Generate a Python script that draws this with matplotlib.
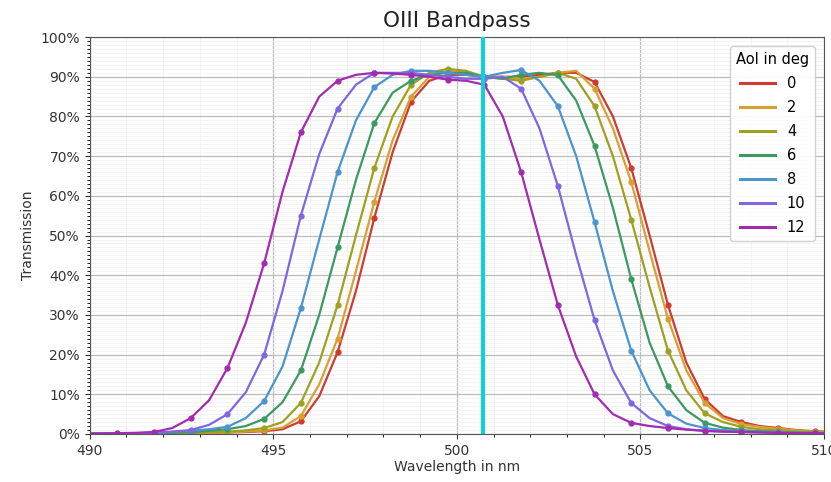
import numpy as np
import matplotlib
matplotlib.use("Agg")
import matplotlib.pyplot as plt
from matplotlib.ticker import MultipleLocator, PercentFormatter

# wavelength grid (nm), 0.5 nm steps; markers are drawn at every 1 nm (x.75)
wavelength = [489.75, 490.25, 490.75, 491.25, 491.75, 492.25, 492.75, 493.25, 493.75, 494.25,
              494.75, 495.25, 495.75, 496.25, 496.75, 497.25, 497.75, 498.25, 498.75, 499.25,
              499.75, 500.25, 500.75, 501.25, 501.75, 502.25, 502.75, 503.25, 503.75, 504.25,
              504.75, 505.25, 505.75, 506.25, 506.75, 507.25, 507.75, 508.25, 508.75, 509.25,
              509.75, 510.25]

aoi_labels = ["0", "2", "4", "6", "8", "10", "12"]

t_aoi0 = [0.1, 0.1, 0.1, 0.1, 0.2, 0.2, 0.3, 0.3, 0.4, 0.5,
          0.7, 1.2, 3.2, 9.5, 20.6, 36.0, 54.4, 71.0, 83.7, 89.0,
          90.5, 90.5, 90.0, 90.0, 90.0, 90.5, 91.0, 91.0, 88.7, 80.0,
          67.0, 50.0, 32.5, 18.0, 8.8, 4.5, 3.0, 2.0, 1.5, 1.0,
          0.7, 0.5]
t_aoi2 = [0.1, 0.1, 0.1, 0.1, 0.2, 0.2, 0.3, 0.3, 0.4, 0.6,
          0.9, 1.6, 4.5, 12.5, 24.0, 41.0, 58.5, 74.0, 85.0, 90.0,
          91.5, 91.0, 90.0, 90.0, 89.5, 90.0, 91.0, 91.5, 87.0, 77.0,
          63.5, 46.0, 29.0, 16.0, 7.8, 4.0, 2.5, 1.8, 1.3, 0.9,
          0.6, 0.4]
t_aoi4 = [0.1, 0.1, 0.1, 0.1, 0.2, 0.2, 0.3, 0.4, 0.6, 0.9,
          1.5, 3.0, 7.8, 18.0, 32.5, 50.0, 67.0, 80.0, 88.0, 91.0,
          92.0, 91.5, 90.0, 89.5, 89.0, 90.0, 91.0, 89.5, 82.6, 70.0,
          54.0, 37.0, 21.0, 11.0, 5.2, 3.0, 1.8, 1.2, 0.9, 0.6,
          0.4, 0.3]
t_aoi6 = [0.1, 0.1, 0.1, 0.2, 0.2, 0.3, 0.5, 0.8, 1.2, 2.0,
          3.8, 8.0, 16.0, 30.0, 47.0, 64.0, 78.3, 86.0, 89.0, 90.5,
          91.0, 91.0, 90.0, 89.5, 90.5, 91.0, 90.4, 84.0, 72.6, 57.0,
          39.0, 23.0, 12.0, 6.0, 2.8, 1.6, 1.0, 0.7, 0.5, 0.4,
          0.3, 0.2]
t_aoi8 = [0.1, 0.1, 0.1, 0.2, 0.3, 0.5, 0.8, 1.2, 1.8, 4.0,
          8.3, 17.0, 31.7, 49.0, 66.0, 79.0, 87.4, 90.5, 91.5, 91.5,
          91.0, 90.5, 90.0, 91.0, 91.7, 89.0, 82.6, 70.0, 53.4, 36.0,
          21.0, 11.0, 5.2, 2.6, 1.5, 1.0, 0.7, 0.5, 0.4, 0.3,
          0.2, 0.2]
t_aoi10 = [0.1, 0.1, 0.1, 0.2, 0.3, 0.6, 1.0, 2.3, 5.0, 10.5,
           20.0, 36.0, 55.0, 70.5, 82.0, 88.0, 91.0, 91.0, 91.0, 90.5,
           90.0, 89.5, 89.5, 90.0, 87.0, 77.0, 62.5, 45.0, 28.7, 16.0,
           7.8, 4.0, 2.0, 1.2, 0.8, 0.6, 0.5, 0.4, 0.3, 0.2,
           0.2, 0.1]
t_aoi12 = [0.1, 0.1, 0.2, 0.3, 0.5, 1.5, 4.0, 8.5, 16.6, 28.0,
           43.0, 61.0, 76.0, 85.0, 89.0, 90.5, 91.0, 90.8, 90.5, 90.0,
           89.3, 89.0, 88.0, 80.0, 66.0, 49.0, 32.5, 19.5, 10.0, 5.0,
           2.8, 2.0, 1.5, 1.1, 0.8, 0.6, 0.5, 0.4, 0.3, 0.2,
           0.2, 0.1]

series = [t_aoi0, t_aoi2, t_aoi4, t_aoi6, t_aoi8, t_aoi10, t_aoi12]
colors = ["#d03a30", "#d9a030", "#a0a020", "#3a9a60", "#4a94d0", "#8066e0", "#a42ab0"]

oiii_line = 500.7

fig = plt.figure(figsize=(8.31, 4.82), dpi=100)
ax = fig.add_axes([0.108, 0.0996, 0.8836, 0.8234])

for vals, c, lab in zip(series, colors, aoi_labels):
    ax.plot(wavelength, vals, color=c, lw=1.6, marker="o", markersize=3.5,
            markevery=(2, 2), label=lab, solid_joinstyle="round")

ax.axvline(oiii_line, color="#10d0d8", lw=3, zorder=5)

ax.set_xlim(490, 510)
ax.set_ylim(0, 100)
ax.xaxis.set_major_locator(MultipleLocator(5))
ax.xaxis.set_minor_locator(MultipleLocator(1))
ax.yaxis.set_major_locator(MultipleLocator(10))
ax.yaxis.set_minor_locator(MultipleLocator(1))
ax.yaxis.set_major_formatter(PercentFormatter(decimals=0))
ax.grid(which="major", color="#bcbcbc", lw=0.9)
ax.grid(which="minor", color="#f2f2f2", lw=0.6)
ax.set_axisbelow(True)
ax.tick_params(axis="both", labelsize=10, colors="#333333", labelcolor="#333333")
ax.tick_params(which="minor", length=2.5)
for s in ax.spines.values():
    s.set_color("#555555")

ax.set_title("OIII Bandpass", fontsize=15.5, color="#222222", pad=7)
ax.set_xlabel("Wavelength in nm", fontsize=10, color="#333333", labelpad=2)
ax.set_ylabel("Transmission", fontsize=10, color="#333333")

leg = ax.legend(title="AoI in deg", loc="upper right", fontsize=10.5, title_fontsize=10.5,
                framealpha=0.9, handlelength=2.4, labelspacing=0.62,
                borderaxespad=0.6)
for h in leg.get_lines():
    h.set_linewidth(2.2)
    h.set_marker("")

fig.savefig("out.png", dpi=100)
